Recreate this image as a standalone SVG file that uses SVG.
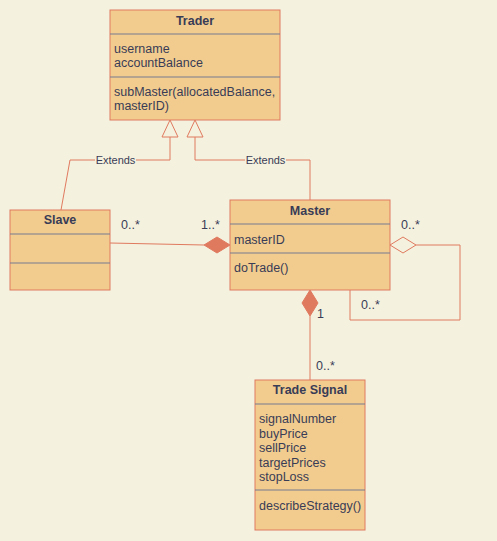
<svg xmlns="http://www.w3.org/2000/svg" width="497" height="541" viewBox="0 0 497 541">
<style>
.box{fill:#F2CC8F;stroke:#E07A5F;stroke-width:1}
.div{stroke:#767B8F;stroke-width:1}
.t{font-family:"Liberation Sans",Arial,sans-serif;font-size:12.5px;fill:#393C56}
.b{font-weight:bold;text-anchor:middle}
.lbl{font-family:"Liberation Sans",Arial,sans-serif;font-size:11px;fill:#393C56}
.edge{fill:none;stroke:#E07A5F;stroke-width:1}
</style>
<rect x="0" y="0" width="497" height="541" fill="#F4F1DE"/>
<g id="connectors">
<path class="edge" d="M170 137 V160 H70 L61 210"/>
<path class="edge" d="M195 137 V160 H310 V200"/>
<polygon points="170,120 162,137 178,137" fill="#F4F1DE" stroke="#E07A5F"/>
<polygon points="195,120 187,137 203,137" fill="#F4F1DE" stroke="#E07A5F"/>
<rect x="95" y="154" width="41" height="12" fill="#F4F1DE"/>
<text class="lbl" x="115.5" y="164" text-anchor="middle">Extends</text>
<rect x="245" y="154" width="41" height="12" fill="#F4F1DE"/>
<text class="lbl" x="265.5" y="164" text-anchor="middle">Extends</text>
<path class="edge" d="M110 243 L204 245"/>
<polygon points="230,245 217,237 204,245 217,253" fill="#E07A5F" stroke="#E07A5F"/>
<text class="t" x="121" y="229">0..*</text>
<text class="t" x="201" y="229">1..*</text>
<path class="edge" d="M416 245 H460 V320 H350 V290"/>
<polygon points="390,245 403,237 416,245 403,253" fill="#F4F1DE" stroke="#E07A5F"/>
<text class="t" x="401" y="229">0..*</text>
<text class="t" x="361" y="309">0..*</text>
<path class="edge" d="M310 316 V380"/>
<polygon points="310,290 318,303 310,316 302,303" fill="#E07A5F" stroke="#E07A5F"/>
<text class="t" x="317" y="318">1</text>
<text class="t" x="316" y="370">0..*</text>
</g>
<g id="trader">
<rect class="box" x="110" y="10" width="170" height="110"/>
<line class="div" x1="110" y1="34" x2="280" y2="34"/>
<line class="div" x1="110" y1="77" x2="280" y2="77"/>
<text class="t b" x="195" y="25">Trader</text>
<text class="t" x="114" y="53">username</text>
<text class="t" x="114" y="67">accountBalance</text>
<text class="t" x="114" y="96">subMaster(allocatedBalance,</text>
<text class="t" x="114" y="110">masterID)</text>
</g>
<g id="slave">
<rect class="box" x="10" y="210" width="100" height="80"/>
<line class="div" x1="10" y1="234" x2="110" y2="234"/>
<line class="div" x1="10" y1="263" x2="110" y2="263"/>
<text class="t b" x="60" y="224">Slave</text>
</g>
<g id="master">
<rect class="box" x="230" y="200" width="160" height="90"/>
<line class="div" x1="230" y1="224" x2="390" y2="224"/>
<line class="div" x1="230" y1="253" x2="390" y2="253"/>
<text class="t b" x="310" y="215">Master</text>
<text class="t" x="234" y="244">masterID</text>
<text class="t" x="234" y="272">doTrade()</text>
</g>
<g id="tradesignal">
<rect class="box" x="255" y="380" width="110" height="150"/>
<line class="div" x1="255" y1="404" x2="365" y2="404"/>
<line class="div" x1="255" y1="490" x2="365" y2="490"/>
<text class="t b" x="310" y="394">Trade Signal</text>
<text class="t" x="259" y="423">signalNumber</text>
<text class="t" x="259" y="437.5">buyPrice</text>
<text class="t" x="259" y="452">sellPrice</text>
<text class="t" x="259" y="466.5">targetPrices</text>
<text class="t" x="259" y="481">stopLoss</text>
<text class="t" x="259" y="510">describeStrategy()</text>
</g>
</svg>
